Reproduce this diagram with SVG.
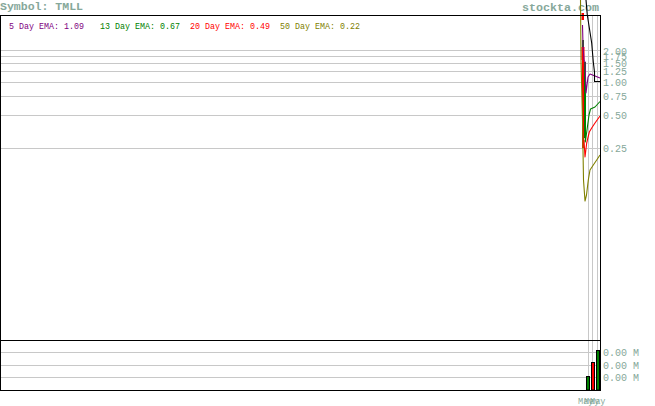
<svg xmlns="http://www.w3.org/2000/svg" width="655" height="406" viewBox="0 0 655 406">
<style>
.bg{fill:#ffffff}
.frame{fill:none;stroke:#000000;stroke-width:1}
.grid{stroke:#c8c8c8;stroke-width:1;fill:none}
.lbl{font-family:"Liberation Mono","DejaVu Sans Mono",monospace;fill:#86a89a}
.title{font-family:"Liberation Mono","DejaVu Sans Mono",monospace;fill:#86a89a;font-size:11.5px;font-weight:bold}
.leg{font-family:"Liberation Mono","DejaVu Sans Mono",monospace;font-size:8.8px}
.axis{font-size:10px}
.ema{fill:none;stroke-width:1.1;stroke-linejoin:round}
</style>
<rect class="bg" x="0" y="0" width="655" height="406"/>
<g id="titles">
<text class="title" x="0" y="10" textLength="83" lengthAdjust="spacingAndGlyphs">Symbol: TMLL</text>
<text class="title" x="522" y="10.5" textLength="77" lengthAdjust="spacingAndGlyphs">stockta.com</text>
</g>
<g id="legend">
<text class="leg" x="9" y="28.5" fill="#800080" textLength="75" lengthAdjust="spacingAndGlyphs">5 Day EMA: 1.09</text>
<text class="leg" x="100" y="28.5" fill="#008000" textLength="80" lengthAdjust="spacingAndGlyphs">13 Day EMA: 0.67</text>
<text class="leg" x="190" y="28.5" fill="#ff0000" textLength="80" lengthAdjust="spacingAndGlyphs">20 Day EMA: 0.49</text>
<text class="leg" x="280" y="28.5" fill="#808000" textLength="80" lengthAdjust="spacingAndGlyphs">50 Day EMA: 0.22</text>
</g>
<g id="price-grid">
<path class="grid" d="M0,50.5H600M0,56.5H600M0,63.5H600M0,71.5H600M0,82.5H600M0,96.5H600M0,115.5H600M0,148.5H600"/>
<path class="grid" d="M588.5,15V390M592.5,15V390M597.5,15V390"/>
</g>
<g id="volume-grid">
<path class="grid" d="M0,352.5H600M0,365.5H600M0,377.5H600"/>
</g>
<g id="price-axis" class="lbl axis">
<text x="603" y="54.5">2.00</text>
<text x="603" y="60">1.75</text>
<text x="603" y="67">1.50</text>
<text x="603" y="75">1.25</text>
<text x="603" y="86">1.00</text>
<text x="603" y="100">0.75</text>
<text x="603" y="119">0.50</text>
<text x="603" y="152">0.25</text>
</g>
<g id="volume-axis" class="lbl axis">
<text x="603" y="356">0.00 M</text>
<text x="603" y="369">0.00 M</text>
<text x="603" y="381">0.00 M</text>
</g>
<g id="date-axis" class="lbl" font-size="8.6px">
<text x="578" y="403.5">May</text>
<text x="584" y="403.5">May</text>
<text x="590" y="403.5">May</text>
</g>
<g id="candles">
<rect x="581.5" y="13" width="2.5" height="7" fill="#ff0000"/>
<rect x="582" y="40" width="2" height="7" fill="#008000"/>
<rect x="581.5" y="47" width="3" height="13" fill="#ff0000"/>
<rect x="582" y="60" width="2" height="88" fill="#ff0000"/>
<rect x="584" y="62" width="2" height="76" fill="#008000"/>
</g>
<g id="indicators">
<path class="ema" stroke="#808000" d="M580.5,0 L581,60 L582.5,120 L583.5,180 L585,201 L586.5,195 L588.3,180 L590,170 L593.3,165 L596.7,160 L600,155"/>
<path class="ema" stroke="#ff0000" d="M584,140 L585,157 L586.7,143 L589.3,132 L591.7,128 L595,123 L600,116"/>
<path class="ema" stroke="#008000" d="M584.8,100 L585.3,142 L587,130 L589,115 L590.5,109 L595,107 L600,101.5"/>
<path class="ema" stroke="#800080" d="M582.5,25 L583,45 L584,60 L585,62 L586,93 L588,77 L590,74 L595,76 L600,78"/>
<path class="ema" stroke="#000000" d="M586,0 L587.3,15 L591.7,43 L593.3,62 L594.5,72 L594.5,81.5 L600,81.5"/>
</g>
<g id="volume-bars" stroke="#000000" stroke-width="1">
<rect x="586.5" y="376.5" width="3" height="13.5" fill="#008000"/>
<rect x="591.5" y="362.5" width="3" height="27.5" fill="#ff0000"/>
<rect x="596.5" y="350.5" width="3" height="39.5" fill="#008000"/>
</g>
<g id="frames">
<rect class="frame" x="0.5" y="15.5" width="600" height="325"/>
<rect class="frame" x="0.5" y="340.5" width="600" height="50"/>
</g>
</svg>
